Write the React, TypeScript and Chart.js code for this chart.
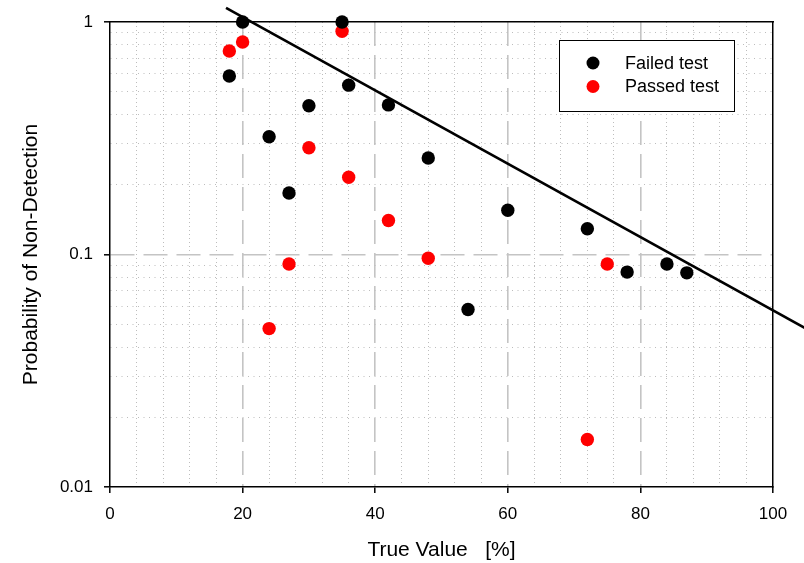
import React, { useEffect, useRef } from 'react';
import { Chart, registerables } from 'chart.js';

Chart.register(...registerables);

// ---- data ----
const failedX = [18, 20, 24, 27, 30, 35, 36, 42, 48, 54, 60, 72, 78, 84, 87];
const failedY = [0.586, 1.0, 0.321, 0.184, 0.436, 1.0, 0.535, 0.44, 0.26, 0.058, 0.155, 0.129, 0.084, 0.091, 0.0834];
const passedX = [18, 20, 24, 27, 30, 35, 36, 42, 48, 72, 75];
const passedY = [0.75, 0.82, 0.048, 0.091, 0.288, 0.912, 0.215, 0.14, 0.0964, 0.016, 0.091];
const fitX = [17.5, 105];
const fitY = [1.15, 0.048];

const xTickValues = [0, 4, 8, 12, 16, 20, 24, 28, 32, 36, 40, 44, 48, 52, 56, 60, 64, 68, 72, 76, 80, 84, 88, 92, 96, 100];
const xTickLabels = [0, 20, 40, 60, 80, 100];
const yTickValues = [0.01, 0.02, 0.03, 0.04, 0.05, 0.06, 0.07, 0.08, 0.09, 0.1, 0.2, 0.3, 0.4, 0.5, 0.6, 0.7, 0.8, 0.9, 1];
const yTickLabels = ['0.01', '0.1', '1'];

const seriesLabels = ['Failed test', 'Passed test'];
const seriesColors = ['#000000', '#ff0000'];

const FONT = "'Liberation Sans', Arial, sans-serif";

const isXMajor = (v: number) => Math.abs(v % 20) < 1e-9;
const isXEdge = (v: number) => v <= 0 || v >= 100;
const isYMajor = (v: number) => {
  const l = Math.log10(v);
  return Math.abs(l - Math.round(l)) < 1e-6;
};
const isYEdge = (v: number) => Math.abs(v - 0.01) < 1e-9 || Math.abs(v - 1) < 1e-9;

const MAJOR_GRID = '#c4c4c4';
const MINOR_GRID = '#bdbdbd';
const NONE = 'rgba(0,0,0,0)';

const legendBox = {
  id: 'legendBox',
  afterDatasetsDraw(chart: any) {
    const { ctx, chartArea } = chart;
    const left = chartArea.right - 214;
    const top = chartArea.top + 18;
    const w = 175;
    const h = 71;
    ctx.save();
    ctx.fillStyle = '#ffffff';
    ctx.fillRect(left, top, w, h);
    ctx.strokeStyle = '#000000';
    ctx.lineWidth = 1;
    ctx.strokeRect(left + 0.5, top + 0.5, w, h);
    const items = chart.data.datasets.filter((d: any) => d.inLegend);
    items.forEach((d: any, i: number) => {
      const cy = top + 23 + i * 23.5;
      ctx.beginPath();
      ctx.fillStyle = d.backgroundColor;
      ctx.arc(left + 34, cy, 6.5, 0, Math.PI * 2);
      ctx.fill();
      ctx.fillStyle = '#000000';
      ctx.font = `18px ${FONT}`;
      ctx.textBaseline = 'middle';
      ctx.textAlign = 'left';
      ctx.fillText(d.label, left + 66, cy + 1);
    });
    ctx.restore();
  },
};

export default function App() {
  const ref = useRef<HTMLCanvasElement | null>(null);

  useEffect(() => {
    if (!ref.current) return;
    Chart.defaults.font.family = FONT;
    const chart = new Chart(ref.current, {
      type: 'scatter',
      data: {
        datasets: [
          {
            type: 'line',
            label: 'fit',
            data: fitX.map((x, i) => ({ x, y: fitY[i] })),
            borderColor: '#000000',
            borderWidth: 2.6,
            pointRadius: 0,
            showLine: true,
            fill: false,
            clip: false,
            inLegend: false,
            order: 0,
          } as any,
          {
            label: seriesLabels[0],
            data: failedX.map((x, i) => ({ x, y: failedY[i] })),
            backgroundColor: seriesColors[0],
            borderColor: seriesColors[0],
            borderWidth: 0,
            pointRadius: 6.7,
            clip: false,
            inLegend: true,
            order: 1,
          } as any,
          {
            label: seriesLabels[1],
            data: passedX.map((x, i) => ({ x, y: passedY[i] })),
            backgroundColor: seriesColors[1],
            borderColor: seriesColors[1],
            borderWidth: 0,
            pointRadius: 6.7,
            clip: false,
            inLegend: true,
            order: 2,
          } as any,
        ],
      },
      options: {
        responsive: false,
        animation: false,
        events: [],
        layout: { padding: { left: 0, right: 31, top: 22, bottom: 0 } },
        plugins: {
          legend: { display: false },
          tooltip: { enabled: false },
        },
        scales: {
          x: {
            type: 'linear',
            position: 'bottom',
            min: 0,
            max: 100,
            afterBuildTicks: (s: any) => {
              s.ticks = xTickValues.map((v) => ({ value: v }));
            },
            afterFit: (s: any) => {
              s.height = 76;
            },
            ticks: {
              autoSkip: false,
              maxRotation: 0,
              minRotation: 0,
              padding: 11,
              color: '#000000',
              font: { family: FONT, size: 17 },
              callback: (v: any) => (xTickLabels.includes(Number(v)) ? String(v) : ''),
            },
            grid: {
              drawTicks: true,
              tickLength: 6,
              tickWidth: 1.5,
              tickBorderDash: [],
              tickColor: (c: any) => (c.tick && isXMajor(c.tick.value) ? '#000000' : NONE),
              color: (c: any) => {
                const v = c.tick ? c.tick.value : 0;
                if (isXEdge(v)) return NONE;
                return isXMajor(v) ? MAJOR_GRID : MINOR_GRID;
              },
              lineWidth: (c: any) => (c.tick && isXMajor(c.tick.value) ? 1.6 : 1),
            },
            border: {
              display: true,
              color: '#000000',
              width: 1.5,
              dash: (c: any) => (c.tick ? (isXMajor(c.tick.value) ? [24, 9] : [1, 3]) : []),
            },
            title: {
              display: true,
              text: 'True Value   [%]',
              color: '#000000',
              font: { family: FONT, size: 21 },
              padding: { top: 0, bottom: 0 },
            },
          } as any,
          y: {
            type: 'logarithmic',
            position: 'left',
            min: 0.01,
            max: 1,
            afterBuildTicks: (s: any) => {
              s.ticks = yTickValues.map((v) => ({ value: v }));
            },
            afterFit: (s: any) => {
              s.width = 110;
            },
            ticks: {
              autoSkip: false,
              padding: 11,
              color: '#000000',
              font: { family: FONT, size: 17 },
              callback: (v: any) => {
                const n = Number(v);
                if (!isYMajor(n)) return '';
                const lbl = yTickLabels.find((t) => Math.abs(Number(t) - n) < 1e-9);
                return lbl ?? '';
              },
            },
            grid: {
              drawTicks: true,
              tickLength: 6,
              tickWidth: 1.5,
              tickBorderDash: [],
              tickColor: (c: any) => (c.tick && isYMajor(c.tick.value) ? '#000000' : NONE),
              color: (c: any) => {
                const v = c.tick ? c.tick.value : 1;
                if (isYEdge(v)) return NONE;
                return isYMajor(v) ? MAJOR_GRID : MINOR_GRID;
              },
              lineWidth: (c: any) => (c.tick && isYMajor(c.tick.value) ? 1.6 : 1),
            },
            border: {
              display: true,
              color: '#000000',
              width: 1.5,
              dash: (c: any) => (c.tick ? (isYMajor(c.tick.value) ? [24, 9] : [1, 4.5]) : []),
            },
            title: {
              display: true,
              text: 'Probability of Non-Detection',
              color: '#000000',
              font: { family: FONT, size: 21 },
              padding: { top: 19, bottom: 0 },
            },
          } as any,
          xTop: {
            type: 'linear',
            axis: 'x',
            position: 'top',
            display: true,
            min: 0,
            max: 100,
            grid: { display: false, drawTicks: false },
            ticks: { display: false },
            border: { display: true, color: '#000000', width: 1.5 },
            afterFit: (s: any) => {
              s.height = 0;
            },
          } as any,
          yRight: {
            type: 'linear',
            axis: 'y',
            position: 'right',
            display: true,
            min: 0,
            max: 1,
            grid: { display: false, drawTicks: false },
            ticks: { display: false },
            border: { display: true, color: '#000000', width: 1.5 },
            afterFit: (s: any) => {
              s.width = 0;
            },
          } as any,
        },
      } as any,
      plugins: [legendBox],
    });
    return () => chart.destroy();
  }, []);

  return (
    <div style={{ position: 'fixed', left: 0, top: 0, width: 804, height: 563, background: '#ffffff' }}>
      <canvas ref={ref} width={804} height={563} style={{ display: 'block' }} />
    </div>
  );
}
